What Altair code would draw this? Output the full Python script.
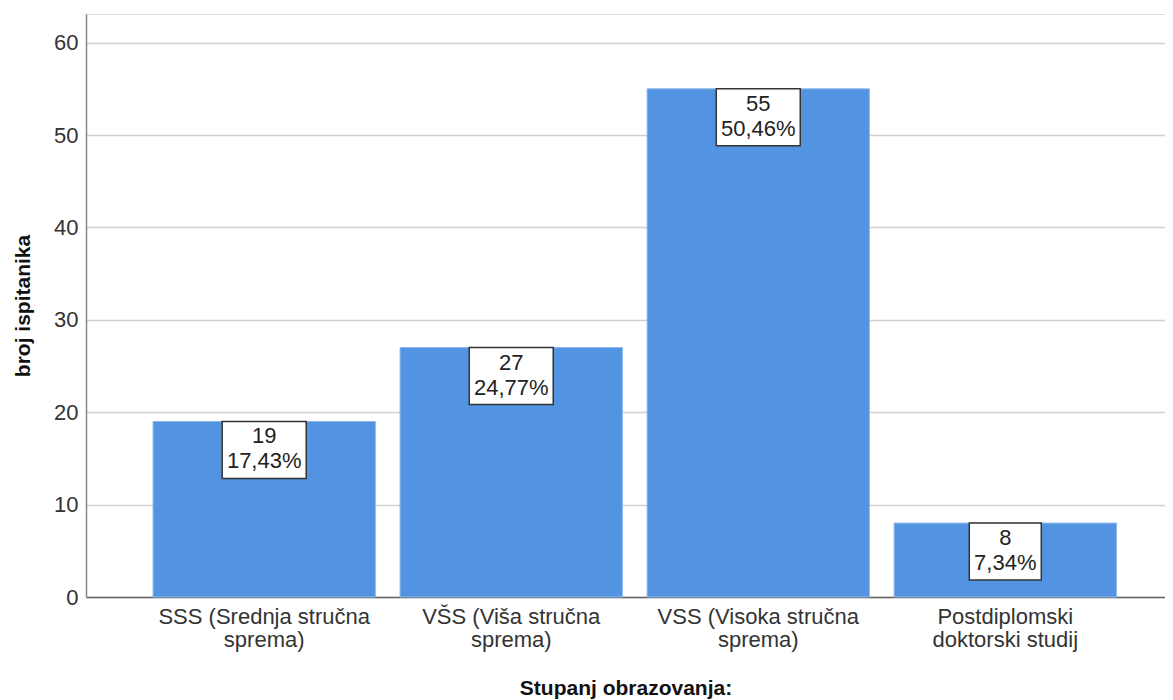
import altair as alt
import pandas as pd

categories = ["SSS (Srednja stručna\nsprema)", "VŠS (Viša stručna\nsprema)",
              "VSS (Visoka stručna\nsprema)", "Postdiplomski\ndoktorski studij"]
counts = [19, 27, 55, 8]
percents = ["17,43%", "24,77%", "50,46%", "7,34%"]

df = pd.DataFrame({"cat": categories, "n": counts, "pct": percents})

FONT = "Liberation Sans"
W, H = 1079, 583

x = alt.X("cat:N", sort=categories,
          scale=alt.Scale(paddingInner=0.1, paddingOuter=0.234, align=0.58),
          axis=alt.Axis(title="Stupanj obrazovanja:", labelAngle=0,
                        labelExpr="split(datum.label, '\\n')", labelLimit=400,
                        labelFont=FONT, labelFontSize=22, labelColor="#333333",
                        labelLineHeight=23, labelPadding=9, labelBaseline="top",
                        ticks=False, domainColor="#666666", domainWidth=1.5,
                        titleFont=FONT, titleFontSize=21, titleFontWeight="bold",
                        titleColor="#111111", titlePadding=27))
y = alt.Y("n:Q", scale=alt.Scale(domain=[0, 63.1], nice=False),
          axis=alt.Axis(title="broj ispitanika", values=[0, 10, 20, 30, 40, 50, 60],
                        labelFont=FONT, labelFontSize=22, labelColor="#333333",
                        labelPadding=8, ticks=False, domainColor="#888888",
                        domainWidth=1.5, gridColor="#d0d0d0", gridWidth=1.5,
                        titleFont=FONT, titleFontSize=21, titleFontWeight="bold",
                        titleColor="#111111", titlePadding=20))

base = alt.Chart(df)

bars = base.mark_bar(color="#5294E2", stroke="#8fb8ea", strokeWidth=1).encode(x=x, y=y)

wide = "M-42,0L42,0L42,57L-42,57Z"
narrow = "M-36,0L36,0L36,57L-36,57Z"
boxes = base.mark_point(filled=True, fill="white", stroke="#333333", strokeWidth=1.5,
                        opacity=1, size=4).encode(
    x=alt.X("cat:N", sort=categories),
    y=alt.Y("n:Q"),
    shape=alt.condition("length(datum.pct) < 6", alt.value(narrow), alt.value(wide)),
)

labels = base.transform_calculate(
    lab="datum.n + '\\n' + datum.pct"
).mark_text(lineBreak="\n", baseline="top", dy=5, fontSize=22, lineHeight=25,
            font=FONT, color="#222222").encode(
    x=alt.X("cat:N", sort=categories),
    y=alt.Y("n:Q"),
    text="lab:N",
)

chart = alt.layer(bars, boxes, labels).properties(
    width=W, height=H,
    autosize=alt.AutoSizeParams(type="none"),
    padding={"left": 78, "top": 6, "right": 0, "bottom": 103},
).configure_view(stroke=None).configure(background="white")

chart.save("out.html", embed_options={"renderer": "svg", "actions": False})
